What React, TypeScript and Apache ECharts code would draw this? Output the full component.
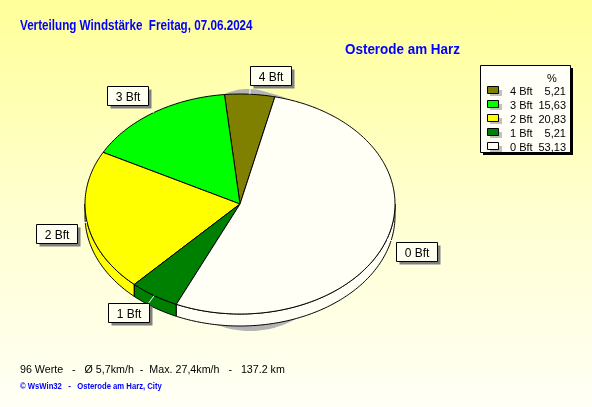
import React, { useEffect, useRef } from 'react';
import * as echarts from 'echarts';

const categories = ['4 Bft', '3 Bft', '2 Bft', '1 Bft', '0 Bft'];
const percentValues = [5.21, 15.63, 20.83, 5.21, 53.13];
const sliceColors = ['#808000', '#00FF00', '#FFFF00', '#008000', '#FFFFF6'];
const titleText = 'Verteilung Windstärke  Freitag, 07.06.2024';
const locationText = 'Osterode am Harz';
const footerText = '96 Werte   -   Ø 5,7km/h  -  Max. 27,4km/h   -   137.2 km';
const creditText = '© WsWin32   -   Osterode am Harz, City';
const percentHeader = '%';

const W = 592;
const H = 407;
const CX = 240;
const CY = 204;
const RX = 155;
const RY = 110;
const DEPTH = 12;
const START = (-77 * Math.PI) / 180;
const LW = 41;
const LH = 19;
const FONT = '"Liberation Sans", Arial, sans-serif';

function measure(text: string, font: string): number {
  const c = document.createElement('canvas').getContext('2d');
  if (!c) return 0;
  c.font = font;
  return c.measureText(text).width;
}
function fit(text: string, font: string, target: number): number {
  const w = measure(text, font);
  return w > 0 ? target / w : 1;
}

function arc(a: number, b: number, dy: number): number[][] {
  const pts: number[][] = [];
  const n = Math.max(2, Math.ceil(Math.abs(b - a) / (Math.PI / 180)));
  for (let j = 0; j <= n; j++) {
    const t = a + ((b - a) * j) / n;
    pts.push([CX + RX * Math.cos(t), CY + RY * Math.sin(t) + dy]);
  }
  return pts;
}

function ellipsePts(cx: number, cy: number, rx: number, ry: number): number[][] {
  const pts: number[][] = [];
  for (let j = 0; j < 180; j++) {
    const t = (j / 180) * Math.PI * 2;
    pts.push([cx + rx * Math.cos(t), cy + ry * Math.sin(t)]);
  }
  return pts;
}

export default function App() {
  const ref = useRef<HTMLDivElement>(null);
  useEffect(() => {
    if (!ref.current) return;
    const chart = echarts.init(ref.current, undefined, { renderer: 'svg', width: W, height: H });
    const total = percentValues.reduce((a, b) => a + b, 0);
    const TWO_PI = Math.PI * 2;

    const titleFont = 'bold 14px ' + FONT;
    const footFont = '11px ' + FONT;
    const creditFont = 'bold 9px ' + FONT;
    const legendFont = '11px ' + FONT;

    const legendChildren: any[] = [
      { type: 'rect', shape: { x: 483, y: 68, width: 90, height: 87 }, style: { fill: '#000' } },
      { type: 'rect', shape: { x: 480.5, y: 65.5, width: 90, height: 87 }, style: { fill: '#FFFFF8', stroke: '#000', lineWidth: 1 } },
      { type: 'text', x: 552, y: 77.5, style: { text: percentHeader, font: legendFont, fill: '#000', textAlign: 'center', textVerticalAlign: 'middle' } },
    ];
    categories.forEach((c, i) => {
      const y = 91 + 14 * i;
      legendChildren.push(
        { type: 'rect', shape: { x: 490, y: y - 1, width: 12, height: 6 }, style: { fill: '#C0C0C0' } },
        { type: 'rect', shape: { x: 487.5, y: y - 4.5, width: 11, height: 7 }, style: { fill: sliceColors[i], stroke: '#000', lineWidth: 1 } },
        { type: 'text', x: 510, y, style: { text: c, font: legendFont, fill: '#000', textAlign: 'left', textVerticalAlign: 'middle' } },
        { type: 'text', x: 566, y, style: { text: percentValues[i].toFixed(2).replace('.', ','), font: legendFont, fill: '#000', textAlign: 'right', textVerticalAlign: 'middle' } }
      );
    });

    chart.setOption({
      animation: false,
      graphic: [
        {
          type: 'rect', z: -10, silent: true,
          shape: { x: 0, y: 0, width: W, height: H },
          style: {
            fill: new echarts.graphic.LinearGradient(0, 0, 0, 1, [
              { offset: 0, color: '#FFFF99' },
              { offset: 0.5, color: '#FFFFCF' },
              { offset: 1, color: '#FFFFF6' },
            ]),
          },
        },
        {
          type: 'text', x: 20, y: 25, scaleX: fit(titleText, titleFont, 233),
          style: { text: titleText, font: titleFont, fill: '#0000FF', textAlign: 'left', textVerticalAlign: 'middle' },
        },
        {
          type: 'text', x: 345, y: 49, scaleX: fit(locationText, titleFont, 115),
          style: { text: locationText, font: titleFont, fill: '#0000FF', textAlign: 'left', textVerticalAlign: 'middle' },
        },
        {
          type: 'text', x: 20, y: 369, scaleX: fit(footerText, footFont, 265),
          style: { text: footerText, font: footFont, fill: '#000', textAlign: 'left', textVerticalAlign: 'middle' },
        },
        {
          type: 'text', x: 20, y: 386, scaleX: fit(creditText, creditFont, 142),
          style: { text: creditText, font: creditFont, fill: '#0000FF', textAlign: 'left', textVerticalAlign: 'middle' },
        },
        { type: 'group', children: legendChildren },
      ],
      series: [
        {
          type: 'custom',
          coordinateSystem: 'none',
          silent: true,
          data: percentValues,
          renderItem: (params: any, api: any) => {
            const i = params.dataIndex;
            const v = api.value(0) as number;
            let before = 0;
            for (let k = 0; k < i; k++) before += percentValues[k];
            const a2 = START - (before / total) * TWO_PI;
            const a1 = a2 - (v / total) * TWO_PI;
            const color = sliceColors[i];
            const children: any[] = [];
            if (i === 0) {
              children.push({
                type: 'polygon', z2: 0,
                shape: { points: ellipsePts(CX + 10, CY + 7, RX - 50, RY + 10) },
                style: { fill: '#B4B4B4' },
              });
              children.push({
                type: 'polygon', z2: 0,
                shape: { points: ellipsePts(CX + 8, CY - 2, RX - 75, RY + 3) },
                style: { fill: '#B4B4B4' },
              });
            }
            for (let k = 0; k <= 2; k++) {
              const lo = Math.max(a1 + TWO_PI * k, 0);
              const hi = Math.min(a2 + TWO_PI * k, Math.PI);
              if (hi - lo > 1e-6) {
                const top = arc(lo, hi, 0);
                const bot = arc(hi, lo, DEPTH);
                children.push({
                  type: 'polygon', z2: 2,
                  shape: { points: top.concat(bot) },
                  style: { fill: color, stroke: '#000', lineWidth: 1 },
                });
              }
            }
            children.push({
              type: 'polygon', z2: 4,
              shape: { points: [[CX, CY]].concat(arc(a1, a2, 0)) },
              style: { fill: color, stroke: '#000', lineWidth: 1 },
            });
            const m = (a1 + a2) / 2;
            const cs = Math.cos(m);
            const sn = Math.sin(m);
            const ex = CX + RX * cs;
            const ey = CY + RY * sn;
            const ax = CX + (RX + 10) * cs;
            const ay = CY + (RY + 9) * sn;
            const bx = Math.round(cs >= 0 ? ax : ax - LW) + 0.5;
            const by = Math.round(sn >= 0 ? ay : ay - LH) + 0.5;
            children.push(
              { type: 'line', z2: 6, shape: { x1: ex, y1: ey, x2: ax, y2: ay }, style: { stroke: '#FFFFFF', lineWidth: 1 } },
              { type: 'rect', z2: 7, shape: { x: bx + 3, y: by + 3, width: LW, height: LH }, style: { fill: '#808080' } },
              { type: 'rect', z2: 8, shape: { x: bx, y: by, width: LW, height: LH }, style: { fill: '#FFFFF0', stroke: '#000', lineWidth: 1 } },
              {
                type: 'text', z2: 9,
                style: { x: bx + LW / 2, y: by + LH / 2 + 0.5, text: categories[i], font: '12px ' + FONT, fill: '#000', textAlign: 'center', textVerticalAlign: 'middle' },
              }
            );
            return { type: 'group', children };
          },
        },
      ],
    });
    return () => chart.dispose();
  }, []);
  return <div ref={ref} style={{ position: 'fixed', left: 0, top: 0, width: W, height: H }} />;
}
